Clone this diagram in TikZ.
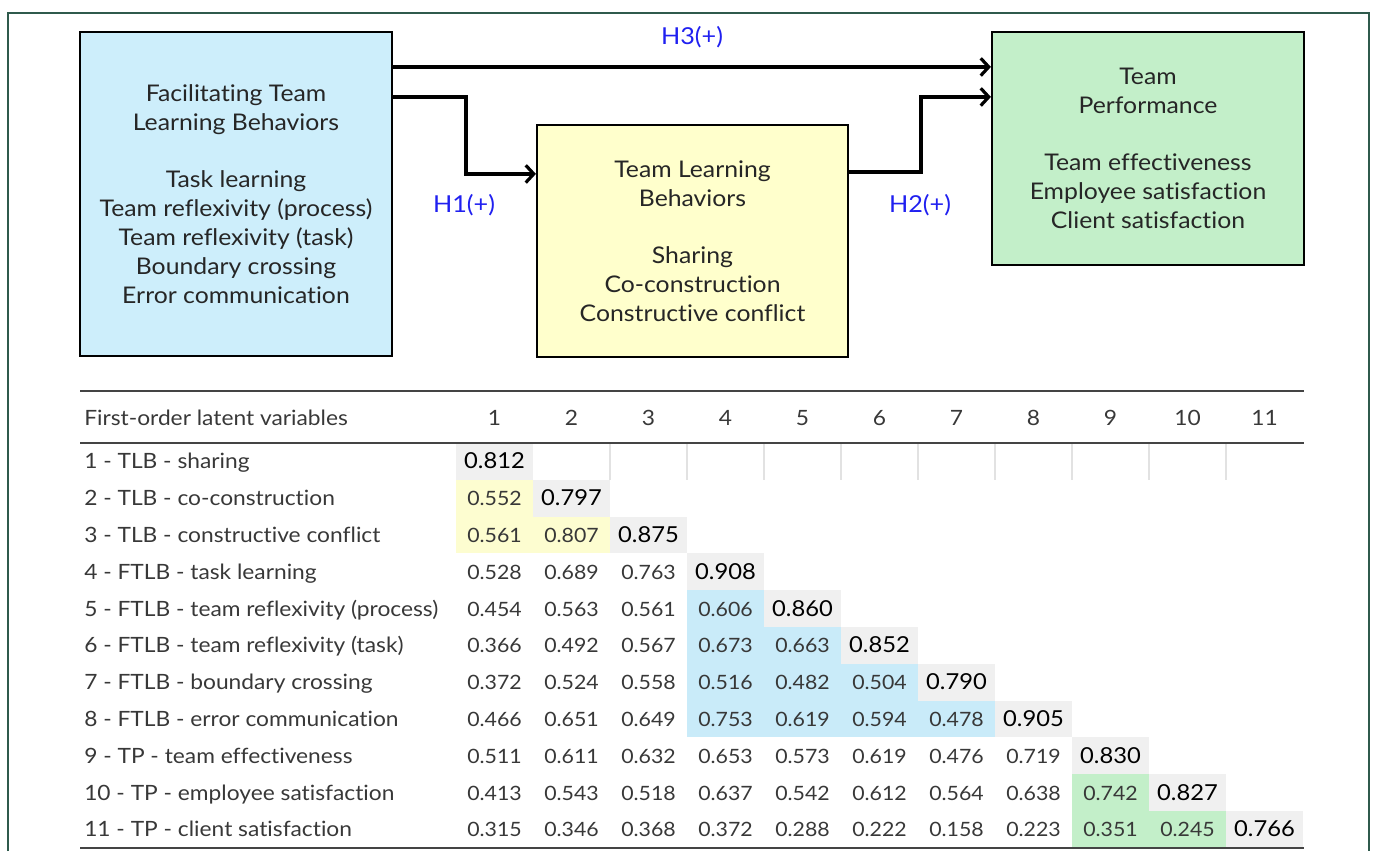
\documentclass[tikz,border=0pt]{standalone}
\usepackage{fontspec}
\setmainfont[FakeStretch=1.08, Ligatures=NoCommon]{Lato}
\usetikzlibrary{arrows.meta}
\definecolor{frameC}{HTML}{2F5A4C}
\definecolor{ftlbC}{HTML}{CDEEFB}
\definecolor{tlbC}{HTML}{FFFFCC}
\definecolor{tpC}{HTML}{C3EFC9}
\definecolor{diagC}{HTML}{F0F0F0}
\definecolor{ylwC}{HTML}{FDFDD0}
\definecolor{bluC}{HTML}{C9EBF9}
\definecolor{grnC}{HTML}{C3EFC9}
\definecolor{hypC}{HTML}{2020F0}
\definecolor{txtC}{HTML}{383838}
\definecolor{ruleC}{HTML}{444444}
\definecolor{sepC}{HTML}{E2E2E2}
\begin{document}
\begin{tikzpicture}[x=0.75pt,y=-0.75pt,
  box/.style={draw=black, line width=1.6pt, inner sep=0pt, align=center,
    text=black!85, font=\fontsize{17.2}{21.75}\selectfont},
  link/.style={line width=2.6pt, line join=miter,
    -{Straight Barb[length=6pt,width=13pt,line width=2.4pt]}},
  hyp/.style={text=hypC, font=\fontsize{17.5}{19}\selectfont},
  rowlab/.style={anchor=base west, text=txtC, inner sep=0pt, font=\fontsize{15.8}{18}\selectfont},
  colhead/.style={anchor=base, text=txtC, inner sep=0pt, font=\fontsize{15.8}{18}\selectfont},
  val/.style={anchor=base, text=txtC, inner sep=0pt, font=\fontsize{14.8}{18}\selectfont},
  diagval/.style={anchor=base, text=black, inner sep=0pt, font=\fontsize{16.5}{18}\selectfont},
  tabrule/.style={draw=ruleC, line width=0.9pt}]
\useasboundingbox (0,0) rectangle (1375,851);

% outer frame
\draw[frameC, line width=1pt] (8,851) -- (8,13) -- (1369,13) -- (1369,851);

% construct boxes
\node[box, fill=ftlbC, minimum width=312*0.75pt, minimum height=324*0.75pt] (ftlb) at (236,194)
  {Facilitating Team\\Learning Behaviors\\[21pt]Task learning\\Team reflexivity (process)\\Team reflexivity (task)\\Boundary crossing\\Error communication};
\node[box, fill=tlbC, minimum width=311*0.75pt, minimum height=232*0.75pt] (tlb) at (692.5,241)
  {Team Learning\\Behaviors\\[21pt]Sharing\\Co-construction\\Constructive conflict};
\node[box, fill=tpC, minimum width=312*0.75pt, minimum height=233*0.75pt] (tp) at (1148,148.5)
  {Team\\Performance\\[21pt]Team effectiveness\\Employee satisfaction\\Client satisfaction};

% hypothesised paths
\draw[link] ([yshift=-27pt]ftlb.north east) -- ([yshift=-27pt]tp.north west);
\draw[link] ([yshift=-49.5pt]ftlb.north east) -- ++(73,0) |- ([yshift=-37.5pt]tlb.north west);
\draw[link] ([yshift=-36pt]tlb.north east) -- ++(72,0) |- ([yshift=-49.5pt]tp.north west);
\node[hyp] (h3) at (692,37) {H3(+)};
\node[hyp] (h1) at (464,205) {H1(+)};
\node[hyp] (h2) at (920,205) {H2(+)};

% correlation table: cell shading and values
\foreach \row [count=\r] in {
  {0.812},
  {0.552,0.797},
  {0.561,0.807,0.875},
  {0.528,0.689,0.763,0.908},
  {0.454,0.563,0.561,0.606,0.860},
  {0.366,0.492,0.567,0.673,0.663,0.852},
  {0.372,0.524,0.558,0.516,0.482,0.504,0.790},
  {0.466,0.651,0.649,0.753,0.619,0.594,0.478,0.905},
  {0.511,0.611,0.632,0.653,0.573,0.619,0.476,0.719,0.830},
  {0.413,0.543,0.518,0.637,0.542,0.612,0.564,0.638,0.742,0.827},
  {0.315,0.346,0.368,0.372,0.288,0.222,0.158,0.223,0.351,0.245,0.766}}{
  \foreach \v [count=\c] in \row {
    \def\cellfill{none}
    \def\vstyle{val}
    \ifnum\c=\r \def\cellfill{diagC}\def\vstyle{diagval}\fi
    \ifnum\r<4 \ifnum\c<\r \def\cellfill{ylwC}\fi\fi
    \ifnum\r>4 \ifnum\r<9 \ifnum\c>3 \ifnum\c<\r \def\cellfill{bluC}\fi\fi\fi\fi
    \ifnum\r>9 \ifnum\c>8 \ifnum\c<\r \def\cellfill{grnC}\fi\fi\fi
    \path[fill=\cellfill] ({456+(\c-1)*77},{443+(\r-1)*36.8}) rectangle ++(77,36.8);
    \node[\vstyle] (v-\r-\c) at ({456+(\c-0.5)*77},{443+(\r-0.5)*36.8+7.5}) {\v};
  }
}

% row labels
\foreach \lab [count=\r] in {
  {1 - TLB - sharing},
  {2 - TLB - co-construction},
  {3 - TLB - constructive conflict},
  {4 - FTLB - task learning},
  {5 - FTLB - team reflexivity (process)},
  {6 - FTLB - team reflexivity (task)},
  {7 - FTLB - boundary crossing},
  {8 - FTLB - error communication},
  {9 - TP - team effectiveness},
  {10 - TP - employee satisfaction},
  {11 - TP - client satisfaction}}{
  \node[rowlab] (lab-\r) at (84,{443+(\r-0.5)*36.8+7.5}) {\lab};
}

% header
\node[rowlab] (head) at (84,425) {First-order latent variables};
\foreach \c in {1,...,11}{
  \node[colhead] (col-\c) at ({456+(\c-0.5)*77},425) {\c};
}

% faint separators in the first row
\foreach \k in {2,...,10}{
  \draw[sepC, line width=1pt] ({456+\k*77},443) -- ++(0,36.8);
}

% table rules
\draw[tabrule] (80,391) -- (1304,391);
\draw[tabrule] (80,443) -- (1304,443);
\draw[tabrule] (80,848) -- (1304,848);
\end{tikzpicture}
\end{document}
